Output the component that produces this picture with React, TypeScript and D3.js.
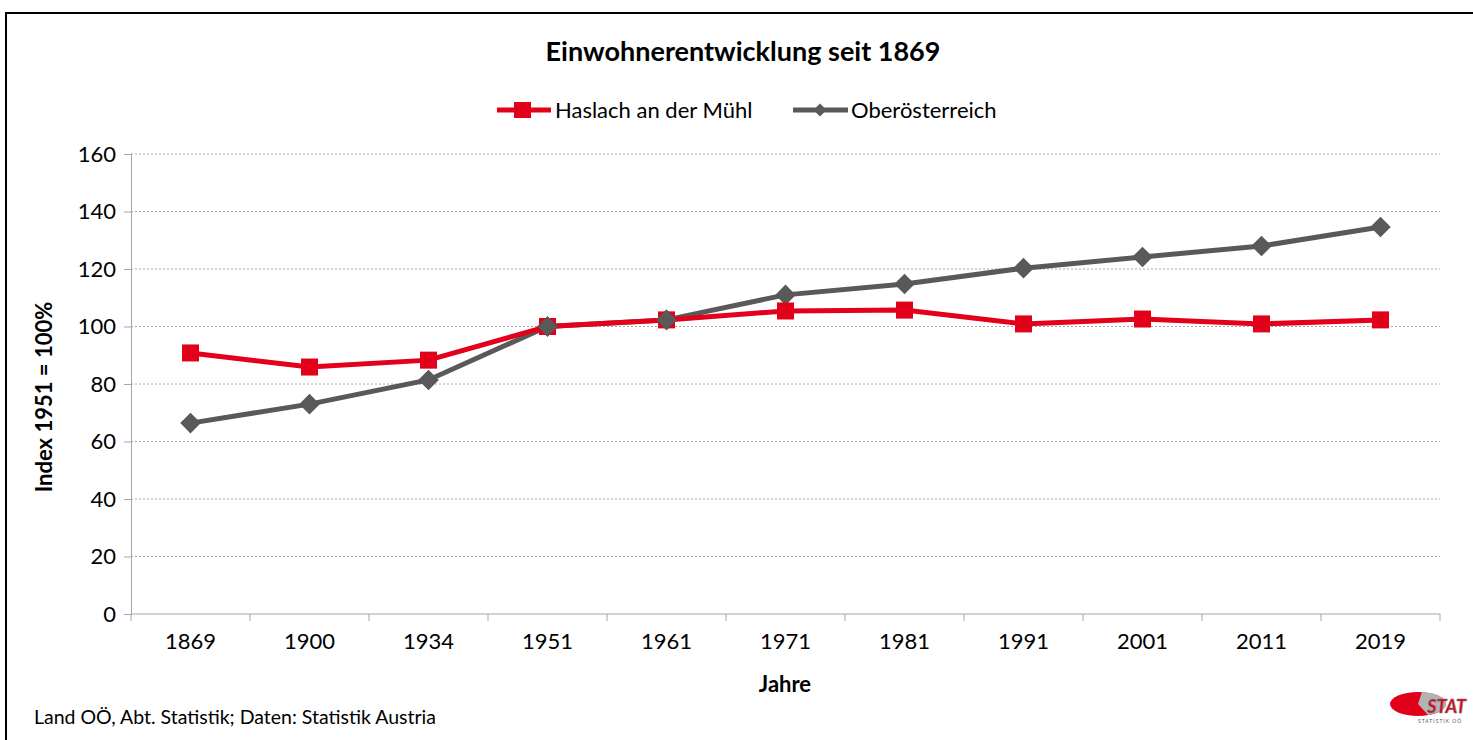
import React, { useEffect, useRef } from 'react';
import * as d3 from 'd3';

const years = ['1869', '1900', '1934', '1951', '1961', '1971', '1981', '1991', '2001', '2011', '2019'];
const haslach = [90.8, 85.9, 88.3, 100, 102.3, 105.4, 105.7, 100.9, 102.6, 100.9, 102.3];
const ooe = [66.4, 73.0, 81.4, 100, 102.3, 111.0, 114.8, 120.3, 124.2, 128.0, 134.6];
const yTicks = [0, 20, 40, 60, 80, 100, 120, 140, 160];

const RED = '#e2001a';
const GREY = '#595959';
const FONT = 'Lato, "Open Sans", sans-serif';

const App = () => {
    const ref = useRef(null);

    useEffect(() => {
        const svg = d3.select(ref.current);
        svg.selectAll('*').remove();
        svg.style('font-family', FONT);

        // outer border
        svg.append('rect')
            .attr('x', 6).attr('y', 13).attr('width', 1480).attr('height', 740)
            .attr('fill', 'white').attr('stroke', '#000').attr('stroke-width', 2);

        const x = d3.scaleBand().domain(years).range([131, 1440]);
        const y = d3.scaleLinear().domain([0, 160]).range([614, 154]);
        const cx = d => x(d) + x.bandwidth() / 2;
        const diamond = d3.symbol().type(d3.symbolDiamond2).size(270)();

        // grid
        svg.append('g').selectAll('line')
            .data(yTicks.filter(t => t > 0))
            .enter().append('line')
            .attr('x1', 131).attr('x2', 1440)
            .attr('y1', d => y(d)).attr('y2', d => y(d))
            .attr('stroke', '#a6a6a6').attr('stroke-width', 1)
            .attr('stroke-dasharray', '2,2');

        // y axis
        const yAxis = svg.append('g')
            .attr('transform', 'translate(131,0)')
            .call(d3.axisLeft(y).tickValues(yTicks).tickSize(7).tickPadding(8));
        yAxis.select('.domain').attr('stroke', '#a6a6a6');
        yAxis.selectAll('line').attr('stroke', '#a6a6a6');
        yAxis.selectAll('text').attr('font-size', 22).attr('fill', '#000').style('font-family', FONT);

        // x axis
        const xAxis = svg.append('g').attr('transform', 'translate(0,614)');
        xAxis.append('line').attr('x1', 131).attr('x2', 1440).attr('y1', 0).attr('y2', 0)
            .attr('stroke', '#a6a6a6');
        xAxis.selectAll('.tk')
            .data([...years.map(d => x(d)), 1440])
            .enter().append('line')
            .attr('x1', d => d).attr('x2', d => d).attr('y1', 0).attr('y2', 7)
            .attr('stroke', '#a6a6a6');
        xAxis.selectAll('text')
            .data(years)
            .enter().append('text')
            .attr('x', d => cx(d)).attr('y', 35)
            .attr('text-anchor', 'middle')
            .attr('font-size', 22)
            .text(d => d);

        const line = d3.line().x((d, i) => cx(years[i])).y(d => y(d));

        // Oberösterreich
        svg.append('path').datum(ooe).attr('d', line)
            .attr('fill', 'none').attr('stroke', GREY).attr('stroke-width', 5);
        svg.append('g').selectAll('path')
            .data(ooe).enter().append('path')
            .attr('d', diamond)
            .attr('transform', (d, i) => `translate(${cx(years[i])},${y(d)})`)
            .attr('fill', GREY);

        // Haslach
        svg.append('path').datum(haslach).attr('d', line)
            .attr('fill', 'none').attr('stroke', RED).attr('stroke-width', 5);
        svg.append('g').selectAll('rect')
            .data(haslach).enter().append('rect')
            .attr('x', (d, i) => cx(years[i]) - 8.5)
            .attr('y', d => y(d) - 8.5)
            .attr('width', 17).attr('height', 17)
            .attr('fill', RED);

        // OÖ markers at 1951 and 1961 sit above the red ones
        svg.append('g').selectAll('path')
            .data(ooe.slice(3, 5)).enter().append('path')
            .attr('d', diamond)
            .attr('transform', (d, i) => `translate(${cx(years[i + 3])},${y(d)})`)
            .attr('fill', GREY);

        // title
        svg.append('text')
            .attr('x', 743).attr('y', 61)
            .attr('text-anchor', 'middle')
            .attr('font-size', 27).attr('font-weight', 'bold')
            .text('Einwohnerentwicklung seit 1869');

        // legend
        const lg = svg.append('g');
        lg.append('line').attr('x1', 497).attr('x2', 551).attr('y1', 110).attr('y2', 110)
            .attr('stroke', RED).attr('stroke-width', 5);
        lg.append('rect').attr('x', 514).attr('y', 102).attr('width', 17).attr('height', 16).attr('fill', RED);
        lg.append('text').attr('x', 555).attr('y', 118).attr('font-size', 22).text('Haslach an der Mühl');
        lg.append('line').attr('x1', 793).attr('x2', 848).attr('y1', 110).attr('y2', 110)
            .attr('stroke', GREY).attr('stroke-width', 5);
        lg.append('path')
            .attr('d', d3.symbol().type(d3.symbolDiamond2).size(110)())
            .attr('transform', 'translate(820,110)')
            .attr('fill', GREY);
        lg.append('text').attr('x', 851).attr('y', 118).attr('font-size', 22).text('Oberösterreich');

        // axis titles
        svg.append('text')
            .attr('transform', 'translate(52,397) rotate(-90)')
            .attr('text-anchor', 'middle')
            .attr('font-size', 22).attr('font-weight', 'bold')
            .text('Index 1951 = 100%');
        svg.append('text')
            .attr('x', 785).attr('y', 692)
            .attr('text-anchor', 'middle')
            .attr('font-size', 22).attr('font-weight', 'bold')
            .text('Jahre');

        // source
        svg.append('text')
            .attr('x', 34).attr('y', 724)
            .attr('font-size', 19.5)
            .text('Land OÖ, Abt. Statistik; Daten: Statistik Austria');

        // logo
        const logo = svg.append('g').attr('transform', 'translate(1418,704)');
        logo.append('ellipse').attr('rx', 28).attr('ry', 12).attr('fill', RED);
        logo.append('path')
            .attr('d', 'M0,0 L4,-12 A28,12 0 0,1 28,0 A28,12 0 0,1 10,11 Z')
            .attr('fill', '#b3b3b3');
        logo.append('text').attr('x', 48).attr('y', 9)
            .attr('text-anchor', 'end')
            .attr('font-size', 18).attr('font-weight', 'bold').attr('font-style', 'italic')
            .attr('fill', RED).attr('stroke', '#777').attr('stroke-width', 0.6)
            .text('STAT');
        logo.append('text').attr('x', 0).attr('y', 19)
            .attr('font-size', 5).attr('fill', '#555').attr('letter-spacing', 1)
            .text('STATISTIK OÖ');
    }, []);

    return <svg ref={ref} width={1473} height={740} style={{ position: 'absolute', left: 0, top: 0 }} />;
};

export default App;
